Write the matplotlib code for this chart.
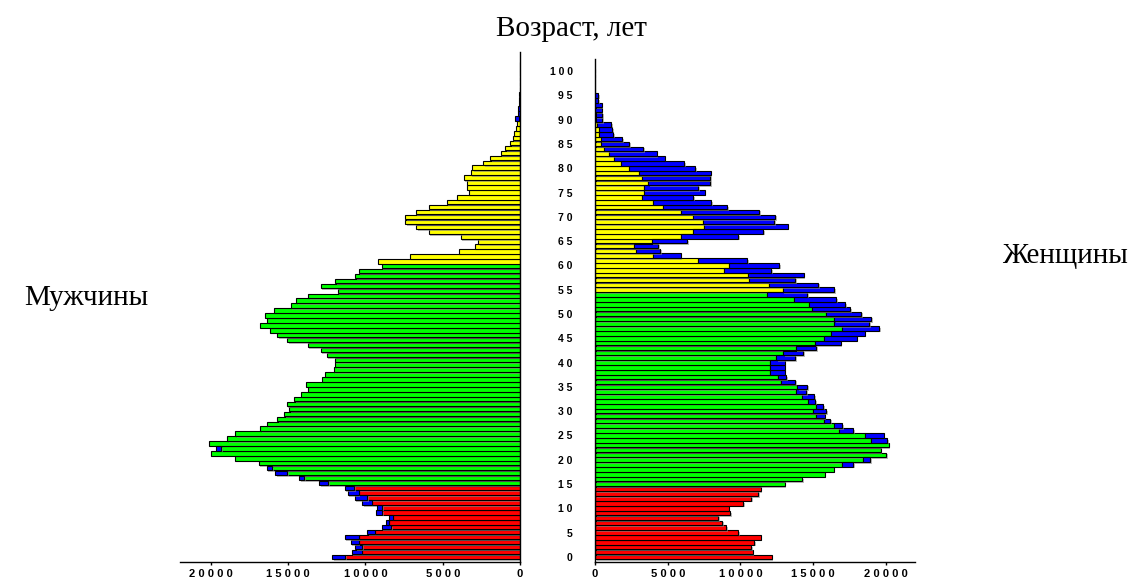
import numpy as np
import matplotlib
matplotlib.use('Agg')
import matplotlib.pyplot as plt
import matplotlib.patheffects as pe

# Ages 0..100
ages = np.arange(0, 101)

# Men: base value (red/green/yellow part) and excess shown in blue
men_base = [11300, 10250, 10200, 10450, 10450, 9400, 8350, 8500, 8250, 8900,
            8900, 9600, 9900, 10450, 10750, 12400, 13950, 15050, 16050, 16900,
            18450, 20000, 19350, 20100, 18950, 18450, 16800, 16400, 15700, 15250,
            14950, 15100, 14600, 14150, 13750, 13850, 12800, 12600, 12050, 11950,
            12000, 12500, 12900, 13750, 15050, 15700, 16200, 16850, 16400, 16500,
            15900, 14850, 14500, 13700, 11800, 12900, 11950, 10650, 10450, 8950,
            9200, 7150, 3950, 2900, 2700, 3850, 5900, 6700, 7450, 7450,
            6750, 5900, 4750, 4050, 3300, 3400, 3400, 3650, 3200, 3100,
            2400, 1950, 1250, 950, 650, 480, 370, 260, 220, 50,
            0, 0, 0, 0, 0, 0, 0, 0, 0, 0, 0]
men_extra = [850, 650, 450, 500, 900, 500, 600, 200, 250, 400,
             350, 600, 800, 700, 600, 600, 350, 800, 350, 0,
             0, 0, 300, 0, 0, 0, 0, 0, 0, 0,
             0, 0, 0, 0, 0, 0, 0, 0, 0, 0,
             0, 0, 0, 0, 0, 0, 0, 0, 0, 0,
             0, 0, 0, 0, 0, 0, 0, 0, 0, 0,
             0, 0, 0, 0, 0, 0, 0, 0, 0, 0,
             0, 0, 0, 0, 0, 0, 0, 0, 0, 0,
             0, 0, 0, 0, 0, 0, 0, 0, 0, 250,
             120, 100, 90, 70, 60, 0, 0, 0, 0, 0, 0]

# Women
women_base = [12150, 10850, 10750, 10950, 11400, 9850, 9000, 8750, 8450, 9300,
              9200, 10200, 10750, 11200, 11400, 13050, 14250, 15800, 16400, 16950,
              18400, 20000, 19650, 20200, 18950, 18550, 16750, 16400, 15750, 15200,
              15000, 15200, 14650, 14250, 13800, 13900, 12800, 12600, 12050, 12000,
              12050, 12450, 12950, 13800, 15100, 15750, 16250, 17000, 16450, 16450,
              15900, 14900, 14700, 13700, 11800, 12900, 11950, 10600, 10500, 8850,
              9200, 7100, 4000, 2850, 2700, 3900, 5900, 6750, 7500, 7400,
              6750, 5900, 4650, 4000, 3250, 3350, 3350, 3650, 3250, 3000,
              2350, 1800, 1300, 950, 600, 400, 400, 300, 300, 150,
              50, 50, 0, 0, 0, 0, 0, 0, 0, 0, 0]
women_extra = [0, 0, 0, 0, 0, 0, 0, 0, 0, 0,
               0, 0, 0, 0, 0, 0, 0, 0, 0, 800,
               500, 0, 0, 0, 1150, 1300, 1000, 600, 400, 600,
               900, 500, 500, 800, 700, 700, 950, 550, 1000, 1050,
               1000, 1300, 1350, 1400, 1800, 2250, 2300, 2550, 2400, 2550,
               2400, 2650, 2500, 2900, 2800, 3550, 3400, 3150, 3850, 3250,
               3450, 3350, 1900, 1650, 1650, 2450, 3950, 4800, 5750, 4900,
               5650, 5400, 4450, 4000, 3500, 4200, 3750, 4250, 4650, 4950,
               4550, 4350, 3500, 3300, 2700, 1950, 1450, 950, 900, 950,
               450, 450, 450, 450, 200, 200, 0, 0, 0, 0, 0]

x_ticks = [0, 5000, 10000, 15000, 20000]
x_tick_labels = ['0', '5 0 0 0', '1 0 0 0 0', '1 5 0 0 0', '2 0 0 0 0']
age_ticks = list(range(0, 101, 5))
age_tick_labels = [' '.join(str(a)) for a in age_ticks]

retire_men = 60
retire_women = 55


def group_colors(retire_age):
    cols = []
    for a in ages:
        if a < 15:
            cols.append('#ff0000')
        elif a < retire_age:
            cols.append('#00ff00')
        else:
            cols.append('#ffff00')
    return cols


shadow = [pe.withSimplePatchShadow(offset=(1.2, -1.2), shadow_rgbFace='0.55', alpha=0.6)]

fig = plt.figure(figsize=(11.44, 5.81), dpi=100)

ax_m = fig.add_axes([180 / 1144, 19.3 / 581, 340 / 1144, 509.7 / 581])
ax_w = fig.add_axes([595 / 1144, 19.3 / 581, 320 / 1144, 502.7 / 581])

for ax, base, extra, retire in [(ax_m, men_base, men_extra, retire_men),
                                (ax_w, women_base, women_extra, retire_women)]:
    base = np.array(base)
    extra = np.array(extra)
    ax.barh(ages, base, height=0.92, color=group_colors(retire),
            edgecolor='black', linewidth=0.8, path_effects=shadow, zorder=2)
    mask = extra > 0
    ax.barh(ages[mask], extra[mask], left=base[mask], height=0.92, color='#0000ff',
            edgecolor='black', linewidth=0.8, path_effects=shadow, zorder=2)
    ax.set_ylim(-1, 102.5)
    ax.set_xticks(x_ticks)
    ax.set_xticklabels(x_tick_labels, fontsize=8, fontweight='bold',
                       family='Liberation Sans')
    ax.tick_params(axis='x', direction='out', length=2.5, width=1, pad=2.5)
    ax.spines['top'].set_visible(False)
    for s in ax.spines.values():
        s.set_linewidth(1)

ax_m.set_xlim(22000, 0)
ax_m.spines['left'].set_visible(False)
ax_m.yaxis.tick_right()
ax_m.set_yticks([])

ax_w.set_xlim(0, 22000)
ax_w.spines['right'].set_visible(False)
ax_w.set_yticks(age_ticks)
ax_w.set_yticklabels(age_tick_labels, fontsize=7.5, fontweight='bold',
                     family='Liberation Sans')
ax_w.tick_params(axis='y', length=0, pad=16)

fig.text(571 / 1144, 1 - 36 / 581, 'Возраст, лет', ha='center', va='baseline',
         fontsize=21, family='Liberation Serif')
fig.text(1002 / 1144, 1 - 263 / 581, 'Женщины', ha='left', va='baseline',
         fontsize=21, family='Liberation Serif')
fig.text(148 / 1144, 1 - 305 / 581, 'Мужчины', ha='right', va='baseline',
         fontsize=21, family='Liberation Serif')

fig.savefig('out.png', dpi=100)
